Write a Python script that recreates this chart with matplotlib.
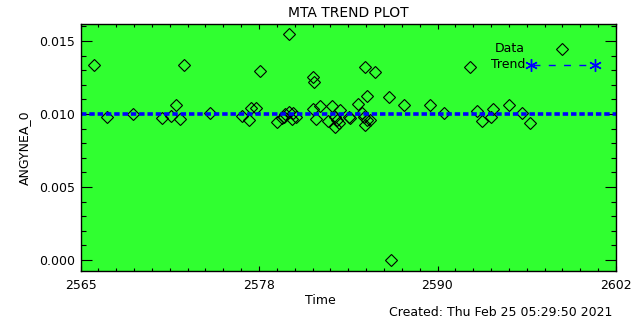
import matplotlib
matplotlib.use('Agg')
import matplotlib.pyplot as plt
import numpy as np
from matplotlib.ticker import FixedLocator, MultipleLocator

# data
time = [2565.95, 2566.82, 2568.61, 2570.61, 2571.23, 2571.58, 2571.86, 2572.14,
        2573.96, 2576.16, 2576.62, 2576.76, 2577.11, 2577.38, 2578.58, 2578.92,
        2579.03, 2579.15, 2579.38, 2579.38, 2579.61, 2579.70, 2579.91, 2581.04,
        2581.04, 2581.13, 2581.27, 2581.57, 2582.07, 2582.38, 2582.60, 2582.72,
        2582.83, 2582.60, 2582.90, 2583.52, 2583.64, 2584.14, 2584.45, 2584.56,
        2584.69, 2584.79, 2584.67, 2584.83, 2585.02, 2585.32, 2586.35, 2586.42,
        2587.32, 2589.18, 2590.15, 2591.94, 2592.38, 2592.77, 2593.35, 2593.49,
        2594.63, 2595.49, 2596.08]
angynea = [0.01334, 0.00979, 0.00998, 0.00975, 0.00988, 0.01060, 0.00966, 0.01334,
           0.01005, 0.00986, 0.00961, 0.01039, 0.01041, 0.01297, 0.00945, 0.00973,
           0.00982, 0.01000, 0.01016, 0.01546, 0.00966, 0.01007, 0.00977, 0.01034,
           0.01255, 0.01217, 0.00964, 0.01055, 0.00950, 0.01055, 0.00982, 0.00959,
           0.00936, 0.00909, 0.01027, 0.00982, 0.00975, 0.01068, 0.01005, 0.00982,
           0.01320, 0.00959, 0.00925, 0.01121, 0.00959, 0.01286, 0.01114, 0.00000,
           0.01060, 0.01060, 0.01005, 0.01320, 0.01023, 0.00952, 0.00982, 0.01034,
           0.01062, 0.01005, 0.00936]
trend_x = [2565, 2602]
trend_y = [0.01003, 0.01003]

x_ticks = [2565, 2565 + 37 / 3, 2565 + 74 / 3, 2602]
x_ticklabels = ['2565', '2578', '2590', '2602']

fig = plt.figure(figsize=(6.4, 3.2), dpi=100)
ax = fig.add_axes([80.5 / 640, 49 / 320, 535.5 / 640, 247 / 320])
ax.set_facecolor('#30ff30')

ax.plot(time, angynea, 'D', mfc='none', mec='black', ms=6, mew=0.8)
ax.plot(trend_x, trend_y, color='blue', lw=2.6, ls=(0, (1.5, 0.8)))

ax.set_xlim(2565, 2602)
ax.set_ylim(-0.000753, 0.01616)

ax.xaxis.set_major_locator(FixedLocator(x_ticks))
ax.set_xticklabels(x_ticklabels)
ax.xaxis.set_minor_locator(FixedLocator(np.linspace(2565, 2602, 31)))
ax.yaxis.set_major_locator(MultipleLocator(0.005))
ax.yaxis.set_minor_locator(MultipleLocator(0.001))
ax.yaxis.set_major_formatter(plt.FormatStrFormatter('%.3f'))

ax.tick_params(axis='both', which='both', direction='in', top=True, right=True,
               width=0.8, labelsize=9, colors='black')
ax.tick_params(axis='y', which='major', length=7.9, pad=4)
ax.tick_params(axis='y', which='minor', length=3.6)
ax.tick_params(axis='x', which='major', length=3.6, pad=6)
ax.tick_params(axis='x', which='minor', length=2)
for s in ax.spines.values():
    s.set_linewidth(1)

ax.set_title('MTA TREND PLOT', fontsize=10, pad=5)
ax.set_ylabel('ANGYNEA_0', fontsize=9, labelpad=6)
fig.text(320 / 640, 1 - 301 / 320, 'Time', fontsize=9, ha='center', va='center')
fig.text(612 / 640, 1 - 312 / 320, 'Created: Thu Feb 25 05:29:50 2021',
         fontsize=9, ha='right', va='center')

# legend in IDL style
ax.text(0.83, 0.90, 'Data', transform=ax.transAxes, ha='right', va='center', fontsize=9)
ax.text(0.83, 0.835, 'Trend', transform=ax.transAxes, ha='right', va='center', fontsize=9)
ax.plot([0.900], [0.90], 'D', transform=ax.transAxes, mfc='none', mec='black', ms=6, mew=0.8)
ax.plot([0.845, 0.955], [0.835, 0.835], transform=ax.transAxes, color='blue',
        ls=(0, (5, 6)), lw=1)
ax.plot([0.841, 0.960], [0.835, 0.835], transform=ax.transAxes, ls='none',
        marker=(6, 2, 0), ms=9, mec='blue', mew=1)

fig.savefig('out.png', dpi=100, facecolor='white')
